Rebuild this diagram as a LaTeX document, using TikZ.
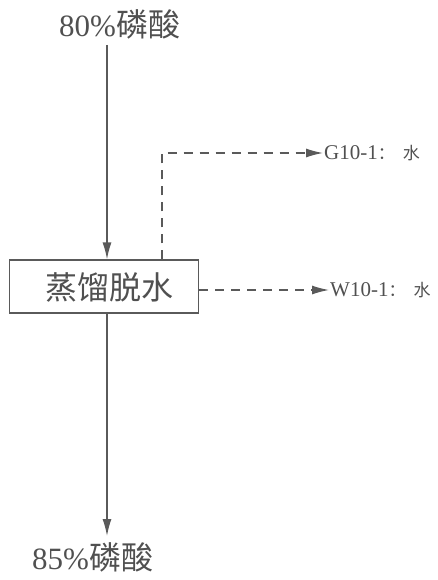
\documentclass[tikz,border=0pt]{standalone}
\usepackage{fontspec}
\setmainfont{Liberation Serif}
\newfontfamily\cjk{Noto Sans CJK SC}
\usetikzlibrary{arrows.meta}
\definecolor{ink}{HTML}{505050}
\definecolor{lineink}{HTML}{5A5A5A}
\tikzset{
  mainarrow/.style={draw=lineink, line width=1.3pt, -{Latex[length=17pt,width=9pt]}},
  dasharrow/.style={draw=lineink, line width=1.3pt, dash pattern=on 9pt off 7pt, -{Latex[length=17pt,width=9pt]}},
  bigtxt/.style={text=ink, font=\fontsize{31}{33}\selectfont, inner sep=0pt, anchor=west},
  labtxt/.style={text=ink, font=\fontsize{21}{23}\selectfont, inner sep=1pt, anchor=west},
  procbox/.style={draw=lineink, line width=1.3pt, minimum width=189pt, minimum height=53pt, inner sep=0pt},
  boxtxt/.style={text=ink, font=\cjk\fontsize{32}{34}\selectfont, inner sep=0pt}
}
\begin{document}
\begin{tikzpicture}[x=1pt,y=-1pt]
\useasboundingbox (0,0) rectangle (438,580);
\node[bigtxt] (top) at (59,24) {80\%{\cjk\fontsize{32}{34}\selectfont 磷酸}};
\node[procbox] (box) at (104,286.5) {};
\node[boxtxt] (boxlabel) at (109,287) {蒸馏脱水};
\node[bigtxt] (bot) at (32,557) {85\%{\cjk\fontsize{32}{34}\selectfont 磷酸}};
\node[labtxt] (glab) at (323,153) {G10-1{\cjk\fontsize{17}{19}\selectfont ：\hspace{8pt}水}};
\node[labtxt] (wlab) at (329,290) {W10-1{\cjk\fontsize{17}{19}\selectfont ：\hspace{8pt}水}};
\coordinate (a1) at (107,45);
\coordinate (b1) at (107,536);
\coordinate (g) at (162,153);
\draw[mainarrow] (a1) -- (a1 |- box.north);
\draw[mainarrow] (box.south -| a1) -- (b1);
\draw[dasharrow] (box.north -| g) |- (glab.west);
\draw[dasharrow] (box.east |- wlab.west) -- (wlab.west);
\end{tikzpicture}
\end{document}
